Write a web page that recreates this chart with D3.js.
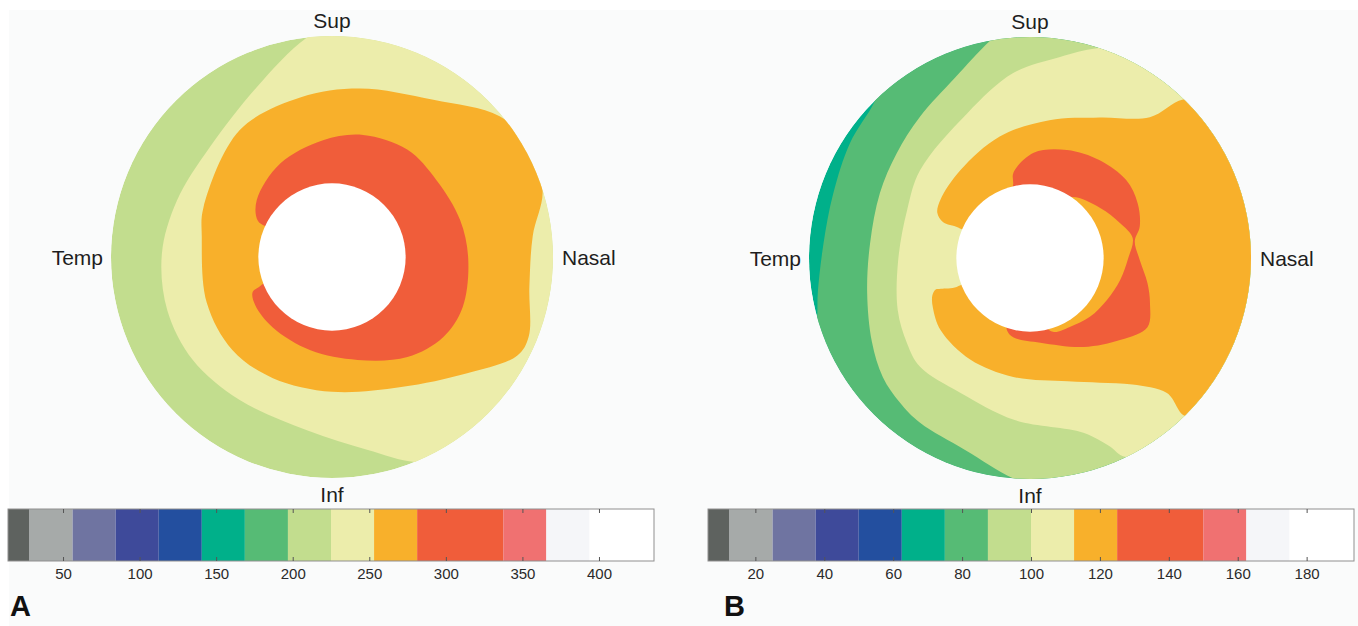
<!DOCTYPE html>
<html>
<head>
<meta charset="utf-8">
<script src="https://cdn.jsdelivr.net/npm/d3@7"></script>
<style>
  body { margin: 0; background: #fff; }
  svg text { font-family: Arial, 'Liberation Sans', Helvetica, sans-serif; }
</style>
</head>
<body>
<div class="vis"></div>
<script>
// colour of each bin of the colour bar (same palette for both maps)
const binColors = ['#5e625f', '#a6aaa9', '#6f74a1', '#3e4a9a', '#234f9f', '#00b08a', '#56bb75',
                   '#c2dd8e', '#ecedab', '#f8b02b', '#f05d3a', '#f07171', '#f5f6f9', '#ffffff']

// colour bar A (bins of 28.125)
const levelsA = [28.125, 56.25, 84.375, 112.5, 140.625, 168.75, 196.875, 225, 253.125, 281.25, 337.5, 365.625, 393.75]
const extentA = [14.0625, 435.9375]
const ticksA = [50, 100, 150, 200, 250, 300, 350, 400]

// colour bar B (bins of 12.5)
const levelsB = [12.5, 25, 37.5, 50, 62.5, 75, 87.5, 100, 112.5, 125, 150, 162.5, 175]
const extentB = [6.25, 193.75]
const ticksB = [20, 40, 60, 80, 100, 120, 140, 160, 180]

// contour boundaries: [angle clockwise from Sup (deg), radius (mm)], map radius 3 mm, disc 1 mm
// map A
const a225 = [[353.5, 3.0], [5, 3.3], [40, 3.4], [80, 3.4], [120, 3.35], [150, 3.15], [158, 3.0], [169.7, 2.66],
              [188, 2.38], [213, 2.31], [233.5, 2.35], [252, 2.35], [271, 2.31], [290, 2.24], [312, 2.23], [336, 2.52]]
const a253 = [[9.4, 2.32], [32.8, 2.54], [50, 2.97], [62, 3.1], [73, 2.99], [84, 2.74], [98.6, 2.71], [112, 2.88],
              [118, 2.85], [130.7, 2.42], [152, 2.0], [180, 1.83], [206, 1.83], [227, 1.85], [250, 1.81],
              [279, 1.79], [291, 1.87], [324, 2.13], [349, 2.21]]
const a281 = [[355.6, 1.59], [14.3, 1.71], [35, 1.78], [53.7, 1.76], [73.9, 1.81], [91, 1.85], [111, 1.9],
              [125.8, 1.86], [143, 1.7], [166, 1.44], [193, 1.3], [220, 1.25], [238, 1.23], [246, 1.18],
              [248, 1.05], [252, 0.85], [270, 0.8], [293, 0.88], [296, 1.12], [307, 1.28], [331, 1.45]]
// map B
const b75 = [[315, 2.99], [322, 3.2], [340, 3.35], [0, 3.4], [60, 3.4], [120, 3.4], [180, 3.4], [230, 3.3],
             [250, 3.15], [254, 3.01], [260.6, 2.92], [274, 2.81], [288, 2.81], [302.6, 2.9]]
const b87 = [[349.6, 3.0], [357, 3.25], [20, 3.4], [90, 3.4], [150, 3.4], [175, 3.2], [184.4, 3.0], [198.7, 2.75],
             [213.7, 2.69], [222, 2.64], [231, 2.57], [242, 2.43], [258, 2.26], [275.4, 2.18], [293.4, 2.22],
             [308, 2.3], [322, 2.43], [337.4, 2.65]]
const b100 = [[17.7, 2.99], [30, 3.3], [90, 3.4], [140, 3.3], [154.5, 2.99], [157, 2.78], [163, 2.48], [185.4, 2.21],
              [207.4, 2.06], [225.3, 2.1], [235.4, 2.03], [248.5, 1.93], [269, 1.79], [291.3, 1.79], [308.7, 1.91],
              [336.5, 2.14], [354.8, 2.52], [8.5, 2.76]]
const b112 = [[8, 1.89], [26.4, 2.13], [40.4, 2.51], [44, 2.99], [50, 3.3], [90, 3.4], [125, 3.3], [135.4, 3.02],
              [134.6, 2.61], [141, 2.21], [150.7, 1.94], [163, 1.75], [188, 1.63], [210.5, 1.6], [231, 1.56],
              [243, 1.48], [249, 1.42], [251.5, 1.35], [251, 1.28], [248.5, 1.07], [252, 0.85], [270, 0.8],
              [290, 0.85], [293, 1.06], [292.5, 1.28], [296, 1.4], [303, 1.45], [321.5, 1.52], [346, 1.7]]
const b125 = [[2, 1.43], [18.9, 1.55], [35.5, 1.63], [51, 1.68], [63, 1.64], [74, 1.55], [81, 1.44], [91, 1.49],
              [102, 1.63], [110.6, 1.74], [120.5, 1.85], [132, 1.66], [149, 1.41], [173, 1.16], [192, 1.1],
              [197.7, 1.03], [202, 0.85], [270, 0.75], [340, 0.85], [347, 1.02], [349, 1.18]]
const b112lens = [[35, 1.01], [54.5, 1.17], [68.7, 1.31], [79, 1.42], [90.6, 1.33], [103.7, 1.26], [118.6, 1.19],
                  [134.5, 1.14], [150, 1.08], [162.7, 1.05], [172, 0.85], [230, 0.6], [300, 0.6], [0, 0.6], [25, 0.8]]

const w = 1358
const h = 626

const svg = d3.select('.vis')
              .append('svg')
              .attr('width', w)
              .attr('height', h)

svg.append('rect').attr('width', w).attr('height', h).attr('fill', '#ffffff')
svg.append('rect').attr('x', 9).attr('y', 10).attr('width', w - 9).attr('height', h - 10).attr('fill', '#fafbfb')

const rScale = d3.scaleLinear().domain([0, 3]).range([0, 221])
const radial = d3.lineRadial()
                 .angle(d => d[0] * Math.PI / 180)
                 .radius(d => rScale(d[1]))
                 .curve(d3.curveCatmullRomClosed.alpha(0.5))

const panels = [
    { id: 'A', cx: 332, cy: 257, levels: levelsA, base: 200,
      contours: [[225, a225], [253.125, a253], [281.25, a281]],
      extent: extentA, ticks: ticksA, barX: [8, 654], letterX: 10 },
    { id: 'B', cx: 1030, cy: 258, levels: levelsB, base: 62.5,
      contours: [[75, b75], [87.5, b87], [100, b100], [112.5, b112], [125, b125], [112.5, b112lens]],
      extent: extentB, ticks: ticksB, barX: [708, 1354], letterX: 724 }
]

panels.forEach(p => {
    const color = d3.scaleThreshold().domain(p.levels).range(binColors)

    // 地图
    const g = svg.append('g').attr('transform', 'translate(' + p.cx + ',' + p.cy + ')')
    g.append('clipPath').attr('id', 'clip' + p.id)
        .append('circle').attr('r', rScale(3))
    const inner = g.append('g').attr('clip-path', 'url(#clip' + p.id + ')')
    inner.append('circle').attr('r', rScale(3)).attr('fill', color(p.base))
    inner.selectAll('path')
        .data(p.contours)
        .enter().append('path')
        .attr('d', d => radial(d[1]))
        .attr('fill', d => color(d[0]))
    g.append('circle').attr('r', rScale(1)).attr('fill', '#ffffff')

    // 方位标签
    const lab = [['Sup', 0, -229, 'middle'], ['Inf', 0, 245, 'middle'], ['Temp', -229, 8, 'end'], ['Nasal', 230, 8, 'start']]
    g.selectAll('text.dir')
        .data(lab)
        .enter().append('text')
        .attr('class', 'dir')
        .attr('x', d => d[1])
        .attr('y', d => d[2])
        .attr('text-anchor', d => d[3])
        .attr('font-size', 21)
        .attr('fill', '#1e1e1e')
        .text(d => d[0])

    // 颜色条
    const barTop = 509, barH = 52
    const x = d3.scaleLinear().domain(p.extent).range(p.barX)
    const edges = [p.extent[0]].concat(p.levels, [p.extent[1]])
    const bar = svg.append('g')
    bar.selectAll('rect')
        .data(binColors)
        .enter().append('rect')
        .attr('x', (d, i) => x(edges[i]))
        .attr('y', barTop)
        .attr('width', (d, i) => x(edges[i + 1]) - x(edges[i]))
        .attr('height', barH)
        .attr('fill', d => d)
    bar.append('rect')
        .attr('x', p.barX[0]).attr('y', barTop)
        .attr('width', p.barX[1] - p.barX[0]).attr('height', barH)
        .attr('fill', 'none').attr('stroke', '#8f8f8f').attr('stroke-width', 1)

    const axB = svg.append('g')
        .attr('transform', 'translate(0,' + (barTop + barH) + ')')
        .call(d3.axisBottom(x).tickValues(p.ticks).tickSize(-4).tickPadding(7))
    axB.select('.domain').remove()
    axB.selectAll('line').attr('stroke', '#555')
    axB.selectAll('text').attr('font-size', 15).attr('fill', '#2a2a2a')
        .style('font-family', 'Arial, Liberation Sans, sans-serif')

    const axT = svg.append('g')
        .attr('transform', 'translate(0,' + barTop + ')')
        .call(d3.axisTop(x).tickValues(p.ticks).tickSize(-4).tickFormat(''))
    axT.select('.domain').remove()
    axT.selectAll('line').attr('stroke', '#555')

    svg.append('text')
        .attr('x', p.letterX)
        .attr('y', 616)
        .attr('font-size', 29)
        .attr('font-weight', 'bold')
        .attr('fill', '#111')
        .text(p.id)
})
</script>
</body>
</html>
